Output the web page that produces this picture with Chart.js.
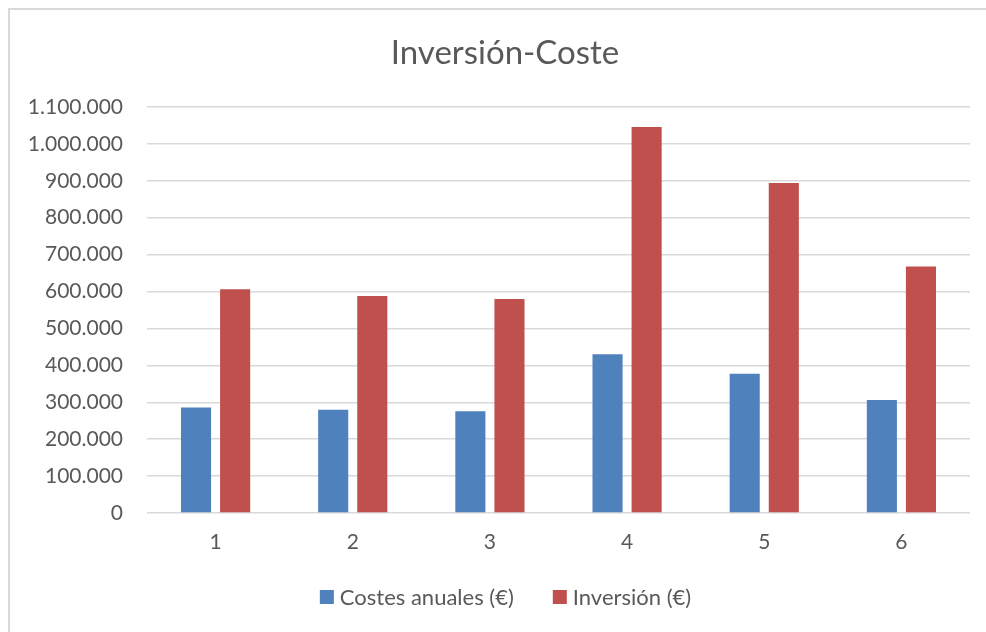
<!DOCTYPE html>
<html>
<head>
<meta charset="utf-8">
<script src="https://cdn.jsdelivr.net/npm/chart.js@4.4.1/dist/chart.umd.min.js"></script>
<style>
  html, body { margin: 0; padding: 0; background: #ffffff; }
  #frame {
    position: absolute; left: 8px; top: 8px; width: 1000px; height: 700px;
    border-top: 2px solid #d9d9d9; border-left: 2px solid #d9d9d9;
  }
  #wrap { position: absolute; left: 0; top: 0; width: 986px; height: 632px; }
</style>
</head>
<body>
<div id="frame"></div>
<div id="wrap"><canvas id="chart"></canvas></div>
<script>
// Yearly figures per option
const categories = ['1', '2', '3', '4', '5', '6'];
const costesAnuales = [286000, 280000, 276000, 430000, 377000, 306000];
const inversion = [606000, 588000, 580000, 1046000, 894000, 668000];
const seriesNames = ['Costes anuales (€)', 'Inversión (€)'];
const chartTitle = 'Inversión-Coste';
const yMin = 0;
const yMax = 1100000;
const yStep = 100000;

const TEXT = '#595959';
const GRID = '#d9d9d9';
const FONT = 'Lato, "Open Sans", "Liberation Sans", sans-serif';

// Spanish thousands separator
function formatEs(v) {
  return String(Math.round(v)).replace(/\B(?=(\d{3})+(?!\d))/g, '.');
}

// Title above the plot and the key below it, centred on x = 505
const headerAndKey = {
  id: 'headerAndKey',
  afterDraw(chart) {
    const ctx = chart.ctx;
    ctx.save();
    ctx.fillStyle = TEXT;
    ctx.textAlign = 'center';
    ctx.textBaseline = 'middle';
    ctx.font = '33px ' + FONT;
    ctx.fillText(chartTitle, 505, 53);

    ctx.font = '22px ' + FONT;
    const box = 14, gapText = 6, gapItem = 39;
    const items = chart.data.datasets.map(ds => ({
      text: ds.label, color: ds.backgroundColor, w: ctx.measureText(ds.label).width
    }));
    let total = 0;
    items.forEach((it, i) => { total += box + gapText + it.w + (i ? gapItem : 0); });
    let x = 505.5 - total / 2;
    const y = 597;
    ctx.textAlign = 'left';
    items.forEach(it => {
      ctx.fillStyle = it.color;
      ctx.fillRect(x, y - box / 2, box, box);
      ctx.fillStyle = TEXT;
      ctx.fillText(it.text, x + box + gapText, y + 1);
      x += box + gapText + it.w + gapItem;
    });
    ctx.restore();
  }
};

new Chart(document.getElementById('chart'), {
  type: 'bar',
  data: {
    labels: categories,
    datasets: [
      {
        label: seriesNames[0],
        data: costesAnuales,
        backgroundColor: '#4f81bd',
        barPercentage: 0.77,
        categoryPercentage: 0.57
      },
      {
        label: seriesNames[1],
        data: inversion,
        backgroundColor: '#c0504d',
        barPercentage: 0.77,
        categoryPercentage: 0.57
      }
    ]
  },
  plugins: [headerAndKey],
  options: {
    responsive: true,
    maintainAspectRatio: false,
    animation: false,
    layout: { padding: { left: 0, right: 16, top: 107, bottom: 77 } },
    plugins: {
      title: { display: false },
      legend: { display: false },
      tooltip: { enabled: false }
    },
    scales: {
      x: {
        grid: { display: false, drawTicks: false },
        border: { display: false },
        ticks: {
          color: TEXT,
          font: { family: FONT, size: 21 },
          padding: 17
        },
        afterFit(scale) { scale.height = 42; }
      },
      y: {
        min: yMin,
        max: yMax,
        grid: { color: GRID, lineWidth: 1.5, drawTicks: false },
        border: { display: false },
        ticks: {
          stepSize: yStep,
          color: TEXT,
          font: { family: FONT, size: 21 },
          padding: 24,
          callback: (v) => formatEs(v)
        },
        afterFit(scale) { scale.width = 147; }
      }
    }
  }
});
</script>
</body>
</html>
